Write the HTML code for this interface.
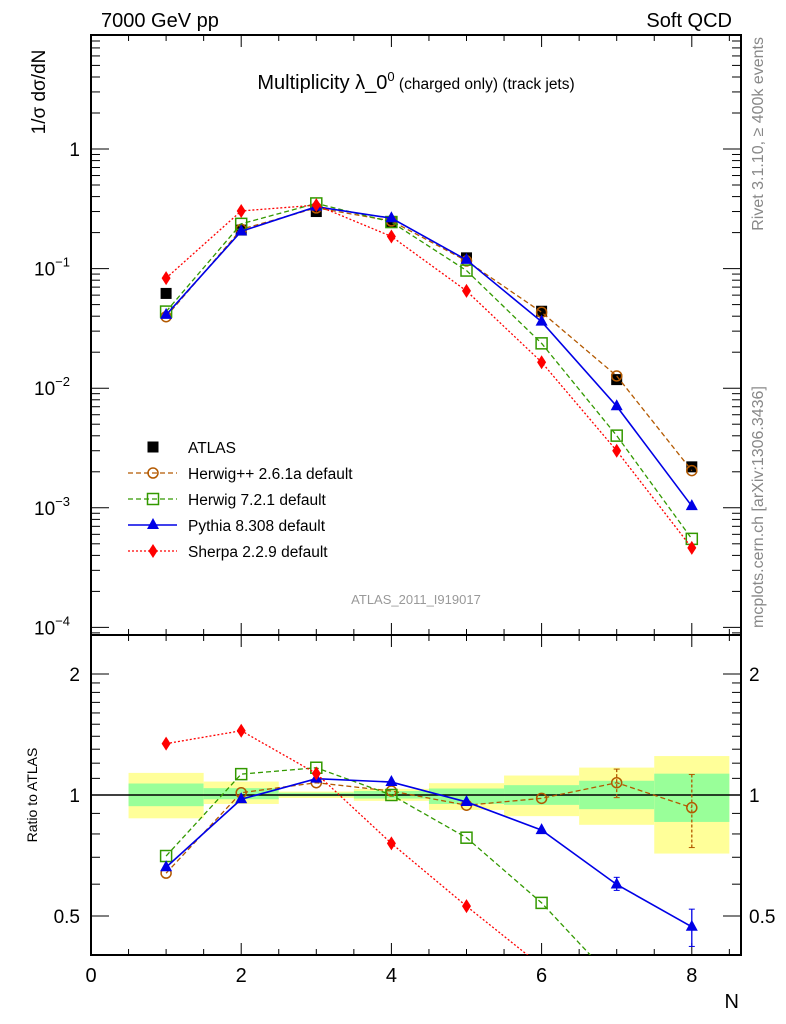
<!DOCTYPE html>
<html><head><meta charset="utf-8"><style>
html,body{margin:0;padding:0;background:#fff;}
svg{display:block;font-family:"Liberation Sans",sans-serif;}
</style></head><body>
<svg id="c" width="786" height="1024" viewBox="0 0 786 1024" xmlns="http://www.w3.org/2000/svg">
<text x="101" y="27" font-size="20">7000 GeV pp</text>
<text x="732" y="27" font-size="20" text-anchor="end">Soft QCD</text>
<text x="416" y="89" font-size="20" text-anchor="middle">Multiplicity λ_0<tspan font-size="13" dy="-8">0</tspan><tspan font-size="15.5" dy="8"> (charged only) (track jets)</tspan></text>
<text transform="translate(45,92) rotate(-90)" font-size="19" text-anchor="middle">1/σ dσ/dN</text>
<text transform="translate(37,795) rotate(-90)" font-size="14" text-anchor="middle">Ratio to ATLAS</text>
<text x="739" y="1008" font-size="20" text-anchor="end">N</text>
<text transform="translate(763,37) rotate(-90)" font-size="16" fill="#888" text-anchor="end">Rivet 3.1.10, ≥ 400k events</text>
<text transform="translate(763,628) rotate(-90)" font-size="16" fill="#888">mcplots.cern.ch [arXiv:1306.3436]</text>
<text x="416" y="604" font-size="13" fill="#999" text-anchor="middle">ATLAS_2011_I919017</text>
<g id="g"></g>
</svg>
<script>
const categories=[1,2,3,4,5,6,7,8];
const atlas=[0.062,0.21,0.30,0.245,0.123,0.044,0.0118,0.0022];
const ratioHerwigPP=[0.639,1.013,1.073,1.023,0.943,0.981,1.073,0.93];
const ratioHerwig7=[0.705,1.127,1.169,1.0,0.783,0.539,0.34,0.25];
const ratioPythia=[0.661,0.976,1.098,1.077,0.961,0.818,0.599,0.47];
const ratioSherpa=[1.342,1.445,1.131,0.758,0.529,0.375,0.254,0.21];
const bandYellowHi=[1.135,1.08,1.02,1.036,1.07,1.118,1.17,1.25];
const bandYellowLo=[0.875,0.95,0.983,0.967,0.918,0.886,0.843,0.715];
const bandGreenHi=[1.068,1.04,1.013,1.023,1.038,1.058,1.085,1.13];
const bandGreenLo=[0.938,0.976,0.993,0.98,0.95,0.945,0.922,0.857];
const xTicks=[0,2,4,6,8];
const yTicks=[1,0.1,0.01,0.001,0.0001];
const yTickLabels=["1","10","10","10","10"];
const yTickExp=["","−1","−2","−3","−4"];
const rTicks=[0.5,1,2];

const NS="http://www.w3.org/2000/svg";
const g=document.getElementById('g');
const L=91,R=741,T=35,M=635,B=955;
const X=v=>L+v*75.1;
const Y=v=>149-Math.log10(v)*119.6;
const RY=v=>795-Math.log2(v)*121;
function mk(t,a,p){const e=document.createElementNS(NS,t);for(const k in a)e.setAttribute(k,a[k]);(p||g).appendChild(e);return e;}

const defs=mk('defs',{});
const c1=mk('clipPath',{id:'cm'},defs);mk('rect',{x:L,y:T,width:R-L,height:M-T},c1);
const c2=mk('clipPath',{id:'cr'},defs);mk('rect',{x:L,y:M,width:R-L,height:B-M},c2);

const bands=mk('g',{'clip-path':'url(#cr)'});


categories.forEach((c,i)=>{
  const y=mk('rect',{x:X(c-0.5),y:RY(bandYellowHi[i]),width:X(1)-X(0),height:RY(bandYellowLo[i])-RY(bandYellowHi[i]),fill:'#ffff99'},bands);
  
  
  const gr=mk('rect',{x:X(c-0.5),y:RY(bandGreenHi[i]),width:X(1)-X(0),height:RY(bandGreenLo[i])-RY(bandGreenHi[i]),fill:'#99ff99'},bands);
  
  
});
mk('line',{x1:L,x2:R,y1:RY(1),y2:RY(1),stroke:'#000','stroke-width':1.5});

const f1=mk('rect',{x:L,y:T,width:R-L,height:M-T,fill:'none',stroke:'#000','stroke-width':2});


const f2=mk('rect',{x:L,y:M,width:R-L,height:B-M,fill:'none',stroke:'#000','stroke-width':2});



for(let v=0;v<=8.5;v+=0.5){
  const big=v%2===0, len=big?12:6;
  [[T,1],[M,1],[M,-1],[B,-1]].forEach(([y0,d])=>mk('line',{x1:X(v),x2:X(v),y1:y0,y2:y0+d*len,stroke:'#000','stroke-width':1}));
}
xTicks.forEach(v=>{const t=mk('text',{x:X(v),y:982,'font-size':20,'text-anchor':'middle'});t.textContent=v;

});

for(let d=-5;d<=0;d++){for(let m=1;m<10;m++){const v=m*Math.pow(10,d);const y=Y(v);if(y<T||y>M)continue;const len=m===1?18:9;
  mk('line',{x1:L,x2:L+len,y1:y,y2:y,stroke:'#000'});mk('line',{x1:R,x2:R-len,y1:y,y2:y,stroke:'#000'});}}
yTicks.forEach((v,i)=>{const t=mk('text',{x:yTickExp[i]?70:80,y:Y(v)+7,'font-size':19,'text-anchor':'end'});t.textContent=yTickLabels[i];
 if(yTickExp[i]){const s=mk('tspan',{'font-size':13,dy:-9},t);s.textContent=yTickExp[i];}
 
 });

[0.4,0.5,0.6,0.7,0.8,0.9,1,2,3].forEach(v=>{const y=RY(v);if(y<M||y>B)return;const len=(v===0.5||v===1||v===2)?18:9;
 mk('line',{x1:L,x2:L+len,y1:y,y2:y,stroke:'#000'});mk('line',{x1:R,x2:R-len,y1:y,y2:y,stroke:'#000'});});
[1.2,1.4,1.6,1.8,1.1,1.3,1.5,1.7,1.9].forEach(v=>{const y=RY(v);mk('line',{x1:L,x2:L+9,y1:y,y2:y,stroke:'#000'});mk('line',{x1:R,x2:R-9,y1:y,y2:y,stroke:'#000'});});
rTicks.forEach(v=>{[[80,'end'],[749,'start']].forEach(([x,a])=>{const t=mk('text',{x:x,y:RY(v)+7,'font-size':19,'text-anchor':a});t.textContent=v;
 
 });});

function marker(type,x,y,col,p){
  if(type==='sq')return mk('rect',{x:x-5.5,y:y-5.5,width:11,height:11,fill:'#000'},p);
  if(type==='circ')return mk('circle',{cx:x,cy:y,r:5,fill:'none',stroke:col,'stroke-width':1.5},p);
  if(type==='osq')return mk('rect',{x:x-5.5,y:y-5.5,width:11,height:11,fill:'none',stroke:col,'stroke-width':1.5},p);
  if(type==='tri')return mk('path',{d:`M${x} ${y-7}L${x+6} ${y+4}L${x-6} ${y+4}Z`,fill:col},p);
  if(type==='dia')return mk('path',{d:`M${x} ${y-7}L${x+4.5} ${y}L${x} ${y+7}L${x-4.5} ${y}Z`,fill:col},p);
}
const series=[
 {name:'herwigpp',ratio:ratioHerwigPP,col:'#b35900',dash:'5,3',type:'circ',w:1.3},
 {name:'herwig7',ratio:ratioHerwig7,col:'#339900',dash:'5,3',type:'osq',w:1.3},
 {name:'pythia',ratio:ratioPythia,col:'#0000e6',dash:'',type:'tri',w:1.6},
 {name:'sherpa',ratio:ratioSherpa,col:'#ff0000',dash:'2,2',type:'dia',w:1.3}
];
const ga=mk('g',{'clip-path':'url(#cm)'});


categories.forEach((c,i)=>{const m=marker('sq',X(c),Y(atlas[i]),'#000',ga);
 
 });
series.forEach(s=>{
  const gm=mk('g',{'clip-path':'url(#cm)'});
  
  
  const pts=categories.map((c,i)=>[X(c),Y(s.ratio[i]*atlas[i])]);
  mk('polyline',{points:pts.map(p=>p.join(',')).join(' '),fill:'none',stroke:s.col,'stroke-width':s.w,'stroke-dasharray':s.dash},gm);
  pts.forEach((p,i)=>{const m=marker(s.type,p[0],p[1],s.col,gm);
   
   });
  const gr=mk('g',{'clip-path':'url(#cr)'});
  
  
  const rp=categories.map((c,i)=>[X(c),RY(s.ratio[i])]);
  mk('polyline',{points:rp.map(p=>p.join(',')).join(' '),fill:'none',stroke:s.col,'stroke-width':s.w,'stroke-dasharray':s.dash},gr);
  rp.forEach((p,i)=>{const m=marker(s.type,p[0],p[1],s.col,gr);
   
   });
});
[[7,1.16,0.985,'#b35900','3,2'],[8,1.125,0.74,'#b35900','3,2'],[8,0.52,0.42,'#0000e6',''],[7,0.624,0.579,'#0000e6','']].forEach(e=>{
  mk('line',{x1:X(e[0]),x2:X(e[0]),y1:RY(e[1]),y2:RY(e[2]),stroke:e[3],'stroke-width':1.3,'stroke-dasharray':e[4]});
  mk('line',{x1:X(e[0])-3,x2:X(e[0])+3,y1:RY(e[1]),y2:RY(e[1]),stroke:e[3]});
  mk('line',{x1:X(e[0])-3,x2:X(e[0])+3,y1:RY(e[2]),y2:RY(e[2]),stroke:e[3]});
});

const leg=mk('g',{});


const labels=['ATLAS','Herwig++ 2.6.1a default','Herwig 7.2.1 default','Pythia 8.308 default','Sherpa 2.2.9 default'];
labels.forEach((lab,i)=>{
  const y=447+i*26;
  const e=mk('g',{},leg);
  
  
  if(i===0)marker('sq',153,y,'#000',e);
  else{const s=series[i-1];mk('line',{x1:128,x2:177,y1:y,y2:y,stroke:s.col,'stroke-width':s.w,'stroke-dasharray':s.dash},e);marker(s.type,153,y,s.col,e);}
  const t=mk('text',{x:188,y:y+6,'font-size':15.5},e);t.textContent=lab;
});
</script>
</body></html>
